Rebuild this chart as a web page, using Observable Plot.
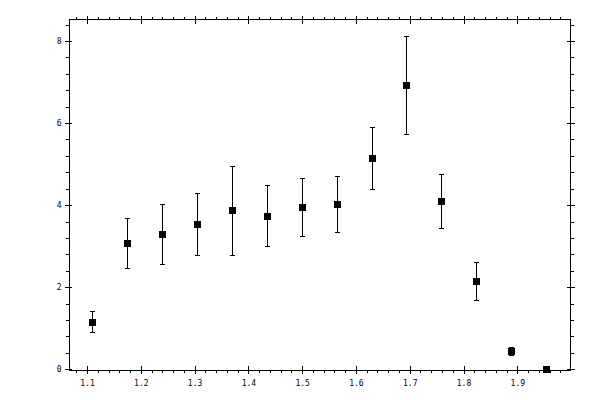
<!DOCTYPE html>
<html>
<head>
<meta charset="utf-8">
<script src="https://cdn.jsdelivr.net/npm/d3@7"></script>
<script src="https://cdn.jsdelivr.net/npm/@observablehq/plot@0.6"></script>
<style>
  html, body { margin: 0; padding: 0; background: #fff; }
  svg { shape-rendering: crispEdges; }
</style>
</head>
<body>
<div id="chart"></div>
<script>
// Data
const xValues = [1.109, 1.174, 1.239, 1.304, 1.369, 1.434, 1.499, 1.564, 1.629, 1.694, 1.759, 1.824, 1.889, 1.954];
const yValues = [1.15, 3.07, 3.29, 3.54, 3.88, 3.73, 3.95, 4.02, 5.15, 6.93, 4.10, 2.15, 0.44, 0.00];
const yHigh   = [1.41, 3.68, 4.02, 4.29, 4.95, 4.49, 4.66, 4.71, 5.91, 8.12, 4.76, 2.61, 0.55, 0.00];
const yLow    = [0.90, 2.46, 2.56, 2.78, 2.78, 3.00, 3.24, 3.34, 4.39, 5.73, 3.44, 1.68, 0.34, 0.00];

// Tick labels
const xMajor = [1.1, 1.2, 1.3, 1.4, 1.5, 1.6, 1.7, 1.8, 1.9];
const yMajor = [0, 2, 4, 6, 8];
const xMinor = d3.range(54, 100).map(i => Math.round(i * 2) / 100).filter(v => !xMajor.some(m => Math.abs(m - v) < 1e-9));
const yMinor = d3.range(1, 22).map(i => Math.round(i * 4) / 10).filter(v => !yMajor.some(m => Math.abs(m - v) < 1e-9));

const data = xValues.map((x, i) => ({x, y: yValues[i], lo: yLow[i], hi: yHigh[i]}));

const cap = {
  draw(ctx, size) {
    ctx.moveTo(-2.5, 0);
    ctx.lineTo(2.5, 0);
  }
};

const font = {fontSize: 8, fontFamily: "DejaVu Sans Mono", fill: "#000"};

const plot = Plot.plot({
  width: 600,
  height: 400,
  marginLeft: 69,
  marginRight: 30,
  marginTop: 19,
  marginBottom: 30,
  style: {background: "#fff", color: "#000", fontFamily: "DejaVu Sans Mono", fontSize: "8px"},
  x: {type: "linear", domain: [1.0665, 1.998]},
  y: {type: "linear", domain: [-0.02, 8.537]},
  marks: [
    Plot.frame({stroke: "#000"}),
    // bottom axis
    Plot.axisX({anchor: "bottom", ticks: xMajor, tickSize: 4, tickPadding: 6, tickFormat: d3.format(".1f"), label: null, ...font}),
    Plot.axisX({anchor: "bottom", ticks: xMajor, tickSize: -4, text: null, label: null}),
    Plot.axisX({anchor: "bottom", ticks: xMinor, tickSize: 3, text: null, label: null}),
    // top axis
    Plot.axisX({anchor: "top", ticks: xMajor, tickSize: 4, text: null, label: null}),
    Plot.axisX({anchor: "top", ticks: xMajor, tickSize: -4, text: null, label: null}),
    Plot.axisX({anchor: "top", ticks: xMinor, tickSize: 3, text: null, label: null}),
    // left axis
    Plot.axisY({anchor: "left", ticks: yMajor, tickSize: 4, tickPadding: 4, tickFormat: d3.format("d"), label: null, ...font}),
    Plot.axisY({anchor: "left", ticks: yMajor, tickSize: -3, text: null, label: null}),
    Plot.axisY({anchor: "left", ticks: yMinor, tickSize: 3, text: null, label: null}),
    // right axis
    Plot.axisY({anchor: "right", ticks: yMajor, tickSize: 4, text: null, label: null}),
    Plot.axisY({anchor: "right", ticks: yMajor, tickSize: -4, text: null, label: null}),
    Plot.axisY({anchor: "right", ticks: yMinor, tickSize: 3, text: null, label: null}),
    // error bars
    Plot.ruleX(data, {x: "x", y1: "lo", y2: "hi", stroke: "#000", strokeWidth: 1}),
    Plot.dot(data, {x: "x", y: "hi", symbol: cap, r: 3, stroke: "#000", fill: "none", strokeWidth: 1}),
    Plot.dot(data, {x: "x", y: "lo", symbol: cap, r: 3, stroke: "#000", fill: "none", strokeWidth: 1}),
    // markers
    Plot.dot(data, {x: "x", y: "y", symbol: "square", r: 3.95, fill: "#000", stroke: "none"})
  ]
});

document.getElementById("chart").appendChild(plot);
</script>
</body>
</html>
